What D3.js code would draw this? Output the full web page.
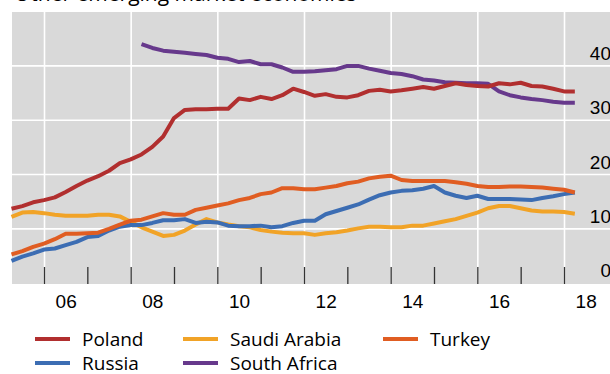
<!DOCTYPE html>
<html>
<head>
<meta charset="utf-8">
<script src="https://cdn.jsdelivr.net/npm/d3@7"></script>
<style>
  html, body { margin: 0; padding: 0; background: #ffffff; }
  svg { display: block; font-family: "Open Sans", "Noto Sans", sans-serif; }
</style>
</head>
<body>
<svg id="chart" width="610" height="374"></svg>
<script>
// Household debt, % of GDP, quarterly observations from 2005 Q1 to 2018 Q1
const startYear = 2005.25;
const step = 0.25;

const poland = [13.6, 14.1, 14.8, 15.2, 15.7, 16.7, 17.8, 18.8, 19.6, 20.6,
  22.0, 22.7, 23.6, 25.0, 26.9, 30.3, 31.8, 31.9, 31.9, 32.0,
  32.0, 33.9, 33.6, 34.2, 33.8, 34.5, 35.7, 35.1, 34.4, 34.7,
  34.2, 34.1, 34.5, 35.3, 35.5, 35.2, 35.4, 35.7, 36.0, 35.7,
  36.2, 36.7, 36.4, 36.2, 36.1, 36.7, 36.5, 36.8, 36.2, 36.1,
  35.7, 35.2, 35.2];

const russia = [4.0, 4.8, 5.4, 6.1, 6.3, 6.9, 7.5, 8.4, 8.6, 9.6,
  10.3, 10.6, 10.6, 11.0, 11.5, 11.5, 11.7, 11.0, 11.2, 11.1,
  10.5, 10.4, 10.4, 10.5, 10.2, 10.4, 11.0, 11.4, 11.4, 12.6,
  13.2, 13.8, 14.4, 15.3, 16.1, 16.6, 16.9, 17.0, 17.3, 17.8,
  16.6, 16.0, 15.6, 16.0, 15.4, 15.4, 15.4, 15.3, 15.2, 15.6,
  15.9, 16.3, 16.6];

const saudiArabia = [12.1, 12.9, 13.0, 12.8, 12.5, 12.3, 12.3, 12.3, 12.5, 12.5,
  12.2, 11.2, 10.2, 9.4, 8.6, 8.8, 9.6, 10.7, 11.7, 11.1,
  10.7, 10.4, 10.2, 9.7, 9.4, 9.2, 9.1, 9.1, 8.8, 9.1,
  9.3, 9.6, 10.0, 10.3, 10.3, 10.2, 10.2, 10.5, 10.5, 10.9,
  11.3, 11.7, 12.3, 12.9, 13.7, 14.1, 14.1, 13.7, 13.3, 13.1,
  13.1, 13.0, 12.7];

// South Africa starts in 2008 Q1
const southAfricaStart = 2008.25;
const southAfrica = [43.9, 43.2, 42.7, 42.5, 42.3, 42.1, 41.9, 41.4, 41.2, 40.6,
  40.8, 40.2, 40.2, 39.6, 38.8, 38.8, 38.9, 39.1, 39.3, 39.9,
  39.9, 39.4, 39.0, 38.6, 38.4, 38.0, 37.4, 37.2, 36.9, 36.8,
  36.7, 36.7, 36.6, 35.2, 34.5, 34.1, 33.8, 33.6, 33.3, 33.1,
  33.1];

const turkey = [5.2, 5.8, 6.6, 7.2, 8.0, 9.0, 9.0, 9.1, 9.2, 9.9,
  10.7, 11.4, 11.6, 12.2, 12.8, 12.5, 12.5, 13.4, 13.8, 14.2,
  14.6, 15.2, 15.6, 16.3, 16.6, 17.4, 17.4, 17.2, 17.2, 17.5,
  17.8, 18.3, 18.6, 19.2, 19.5, 19.7, 18.9, 18.7, 18.7, 18.7,
  18.7, 18.5, 18.2, 17.8, 17.6, 17.6, 17.7, 17.7, 17.6, 17.5,
  17.3, 17.1, 16.6];

const yTicks = [0, 10, 20, 30, 40];
const gridYears = [2006, 2008, 2010, 2012, 2014, 2016, 2018];
const tickYears = d3.range(2006, 2019);
const yearLabels = ["06", "08", "10", "12", "14", "16", "18"];

const seriesNames = ["Poland", "Saudi Arabia", "Turkey", "Russia", "South Africa"];
const colors = {
  "Poland": "#b12f2f",
  "Saudi Arabia": "#f1a327",
  "Turkey": "#e05d22",
  "Russia": "#3c6db3",
  "South Africa": "#67398c"
};

function toPoints(values, t0) {
  return values.map((v, i) => ({ t: t0 + i * step, v }));
}

const series = [
  { name: "Saudi Arabia", points: toPoints(saudiArabia, startYear) },
  { name: "Russia", points: toPoints(russia, startYear) },
  { name: "Turkey", points: toPoints(turkey, startYear) },
  { name: "South Africa", points: toPoints(southAfrica, southAfricaStart) },
  { name: "Poland", points: toPoints(poland, startYear) }
];

const svg = d3.select("#chart");
const plot = { left: 12, right: 610, top: 12, bottom: 284 };

const x = d3.scaleLinear().domain([2005.25, 2018]).range([11.5, 564]);
const y = d3.scaleLinear().domain([0, 50]).range([282.7, 11]);

// Panel title (sits mostly above the visible area)
svg.append("text")
  .attr("x", 14).attr("y", 1)
  .attr("font-size", 21).attr("fill", "#000")
  .text("Other emerging market economies");

// Plot background
svg.append("rect")
  .attr("x", plot.left).attr("y", plot.top)
  .attr("width", plot.right - plot.left).attr("height", plot.bottom - plot.top)
  .attr("fill", "#d9d9d9");

// White gridlines
const gridH = svg.append("g")
  .attr("transform", `translate(${plot.left},0)`)
  .call(d3.axisLeft(y).tickValues([10, 20, 30, 40])
    .tickSize(-(plot.right - plot.left)).tickFormat(""));
gridH.select(".domain").remove();
gridH.selectAll(".tick line").attr("stroke", "#ffffff").attr("stroke-width", 1.6);

const gridV = svg.append("g")
  .attr("transform", `translate(0,${plot.bottom})`)
  .call(d3.axisBottom(x).tickValues(gridYears)
    .tickSize(-(plot.bottom - plot.top)).tickFormat(""));
gridV.select(".domain").remove();
gridV.selectAll(".tick line").attr("stroke", "#ffffff").attr("stroke-width", 1.6);

// Year ticks at the bottom of the panel
const tickAxis = svg.append("g")
  .attr("transform", `translate(0,${plot.bottom})`)
  .call(d3.axisBottom(x).tickValues(tickYears).tickSize(-17).tickFormat(""));
tickAxis.select(".domain").remove();
tickAxis.selectAll(".tick line").attr("stroke", "#333333").attr("stroke-width", 1.3);

// Year labels centred in each even year
const labelAxis = svg.append("g")
  .attr("transform", `translate(0,${plot.bottom})`)
  .call(d3.axisBottom(x).tickValues(gridYears.map(d => d + 0.5))
    .tickSize(0).tickPadding(0)
    .tickFormat((d, i) => yearLabels[i]));
labelAxis.select(".domain").remove();
labelAxis.selectAll("text")
  .attr("dy", null).attr("y", 24)
  .attr("font-size", 19).attr("font-family", null).attr("fill", "#000");

// Right-hand value labels, placed just above their gridline
const valueAxis = svg.append("g")
  .attr("transform", "translate(611,0)")
  .call(d3.axisLeft(y).tickValues(yTicks).tickSize(0).tickPadding(0));
valueAxis.select(".domain").remove();
valueAxis.selectAll("text")
  .attr("dy", null).attr("y", -6)
  .attr("font-size", 19).attr("font-family", null).attr("fill", "#000");

// Series lines
const line = d3.line().x(d => x(d.t)).y(d => y(d.v));
svg.append("g").selectAll("path")
  .data(series)
  .join("path")
  .attr("d", d => line(d.points))
  .attr("fill", "none")
  .attr("stroke", d => colors[d.name])
  .attr("stroke-width", 4)
  .attr("stroke-linejoin", "round");

// Legend: two rows, three columns
const legendCols = [35, 183, 383];
const legendRows = [339, 363];
const legend = svg.append("g").selectAll("g")
  .data(seriesNames)
  .join("g")
  .attr("transform", (d, i) => `translate(${legendCols[i % 3]},${legendRows[Math.floor(i / 3)]})`);
legend.append("line")
  .attr("x1", 0).attr("x2", 35)
  .attr("stroke", d => colors[d]).attr("stroke-width", 4);
legend.append("text")
  .attr("x", 47).attr("y", 6.5)
  .attr("font-size", 19).attr("fill", "#000")
  .text(d => d);
</script>
</body>
</html>
